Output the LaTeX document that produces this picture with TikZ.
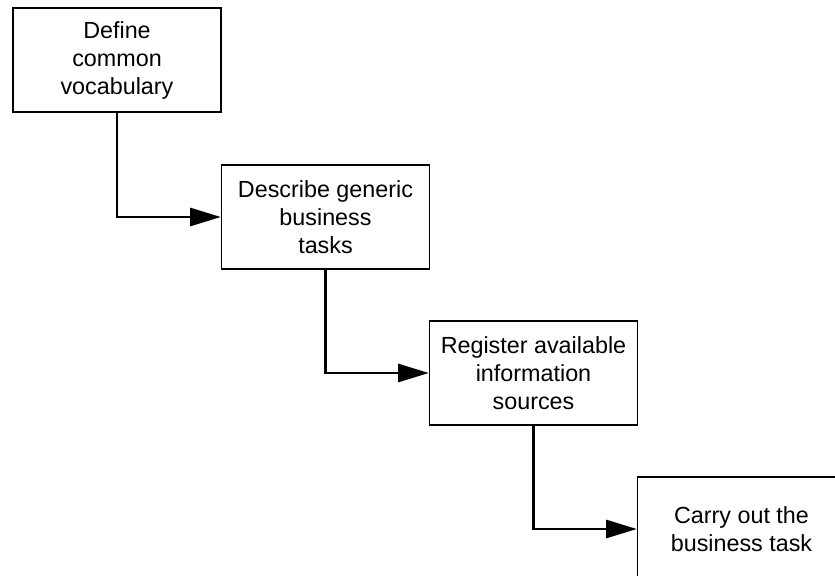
\documentclass[tikz,border=0pt]{standalone}
\usepackage{fontspec}
\setmainfont{Liberation Sans}
\usetikzlibrary{arrows.meta}
\definecolor{ink}{RGB}{0, 0, 0}

\begin{document}
\begin{tikzpicture}[x=0.75pt, y=-0.75pt,
    stepbox/.style={draw=ink, line width=1pt, minimum width=156pt, minimum height=78pt,
        inner sep=0pt, align=center, font=\fontsize{17.5}{21}\selectfont},
    flow/.style={draw=ink, line width=2pt, -{Triangle[length=23pt, width=13.5pt]}}]
% Page
\useasboundingbox (0,0) rectangle (835,575);
\clip (0,0) rectangle (835,575);

% Steps
\node[stepbox] (vocab) at (117,60) {Define\\common\\vocabulary};
\node[stepbox] (tasks) at (325.5,217) {Describe generic\\business\\tasks};
\node[stepbox] (sources) at (533.5,373) {Register available\\information\\sources};
\node[stepbox] (carry) at (741.5,529) {Carry out the\\business task};

% Connectors
\foreach \from/\to in {vocab/tasks, tasks/sources, sources/carry} {
    \draw[flow] (\from.south) |- (\to.west);
}
\end{tikzpicture}
\end{document}
